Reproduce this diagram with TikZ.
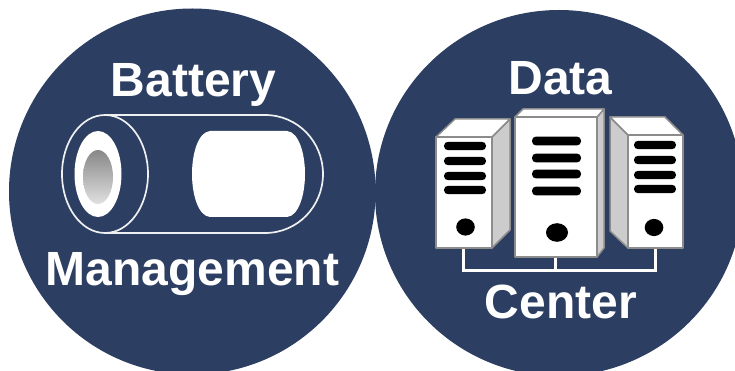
\documentclass[tikz,border=0pt]{standalone}
\usepackage{fontspec}
\setmainfont{Liberation Sans}
\definecolor{navy}{HTML}{2C3E61}
\definecolor{edgegrey}{HTML}{8C8C8C}
\definecolor{sidegrey}{HTML}{CCCCCC}
\tikzset{
  disc/.style={fill=navy,draw=none},
  title/.style={text=white,font=\fontsize{48}{50}\selectfont\bfseries,inner sep=0pt,anchor=base},
  wire/.style={draw=white!92!navy,line width=1.7pt},
  face/.style={fill=white,draw=edgegrey,line width=1.5pt,line join=round},
  sideface/.style={fill=sidegrey,draw=edgegrey,line width=1.5pt,line join=round},
  slot/.style={fill=black,draw=none,rounded corners=4pt},
  link/.style={draw=white,line width=3pt,line join=miter},
}
\begin{document}
\begin{tikzpicture}[x=1pt,y=-1pt]
\useasboundingbox (0,0) rectangle (735,371);
\fill[white] (0,0) rectangle (735,371);
\begin{scope}
\clip (0,0) rectangle (735,371);
\fill[disc] (192.3,191.5) ellipse[x radius=183.3,y radius=183];
\fill[disc] (559,193) ellipse[x radius=184,y radius=183];
\end{scope}
% battery
\draw[wire] (105,115) -- (265,115)
  .. controls (298,115) and (323,142) .. (323,174)
  .. controls (323,206) and (298,233) .. (265,233) -- (105,233);
\draw[wire] (105,174) ellipse[x radius=43,y radius=59];
\fill[white] (98,174) ellipse[x radius=23.5,y radius=43];
\shade[top color=black!47,bottom color=black!12] (98,177) ellipse[x radius=15,y radius=27];
\fill[white] (210,131) -- (287,131)
  .. controls (299,132) and (305,154) .. (305,174)
  .. controls (305,194) and (299,216) .. (287,217)
  -- (210,217)
  .. controls (198,216) and (192,194) .. (192,174)
  .. controls (192,154) and (198,132) .. (210,131) -- cycle;
% links
\coordinate (busL) at (463,270);
\coordinate (busM) at (555,270);
\coordinate (busR) at (655,270);
\coordinate (srvL) at (463,248);
\coordinate (srvM) at (555,257);
\coordinate (srvR) at (655,248);
\draw[link] (srvL) -- (busL) -- (busR) -- (srvR);
\draw[link] (srvM) -- (busM);
% left server
\draw[sideface] (492,137) -- (510,119) -- (510,230) -- (492,248) -- cycle;
\draw[face] (436,137) -- (455,119) -- (510,119) -- (492,137) -- cycle;
\draw[face] (436,137) rectangle (492,248);
\foreach \y in {146,161,176,190} \fill[slot] (444,\y-4.2) rectangle (486,\y+4.2);
\fill[black] (465.5,227) ellipse[x radius=9.3,y radius=8.6];
% middle server
\draw[sideface] (597,117) -- (604,109) -- (604,248) -- (597,257) -- cycle;
\draw[face] (515,117) -- (523,109) -- (604,109) -- (597,117) -- cycle;
\draw[face] (515,117) rectangle (597,257);
\foreach \y in {141,158,174,191} \fill[slot] (532,\y-4.4) rectangle (581,\y+4.4);
\fill[black] (557,232.5) ellipse[x radius=11,y radius=9.3];
% right server
\draw[sideface] (628,135) -- (610,117) -- (610,231) -- (628,248) -- cycle;
\draw[face] (628,135) -- (610,117) -- (665,117) -- (683,135) -- cycle;
\draw[face] (628,135) rectangle (683,248);
\foreach \y in {145,160,175,189} \fill[slot] (634,\y-4.2) rectangle (676,\y+4.2);
\fill[black] (654,227.5) ellipse[x radius=9.3,y radius=8.6];
% labels
\node[title] (batt) at (193.5,96.5) {Battery};
\node[title] (mgmt) at (192.5,285) {Management};
\node[title] (data) at (560.5,95) {Data};
\node[title] (cent) at (561,318) {Center};
\end{tikzpicture}
\end{document}
